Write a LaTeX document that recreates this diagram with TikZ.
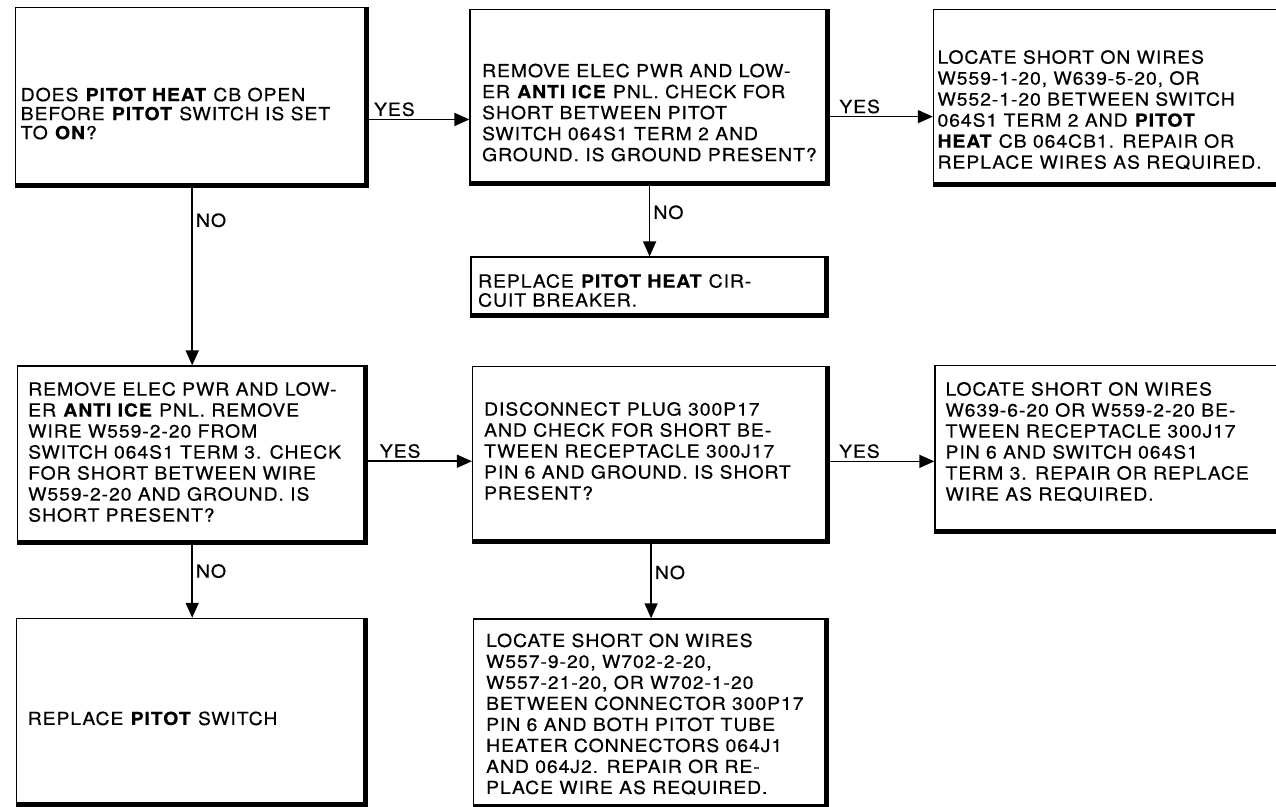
\documentclass[tikz,border=0pt]{standalone}
\usepackage{fontspec}
\setmainfont{TeX Gyre Heros}[FakeStretch=1.08, LetterSpace=5, FakeBold=0.4]
\usepackage{tikz}
\usetikzlibrary{arrows.meta, positioning, calc}
\newcommand{\boxtext}[5]{\parbox[c][#2][t]{#1}{\raggedright\leftskip=#3\relax\vspace*{#4}#5}}

\begin{document}
\begin{tikzpicture}[
    x=1pt, y=-1pt,
    node distance=100pt,
    box/.style={rectangle, draw=black, line width=1.4pt, inner sep=0pt,
                font=\fontsize{18pt}{21pt}\selectfont,
                path picture={\draw[line width=9pt]
                    (path picture bounding box.south west) -- (path picture bounding box.south east)
                    -- (path picture bounding box.north east);}},
    tight/.style={font=\fontsize{18pt}{19pt}\selectfont},
    flow/.style={-{Triangle[length=15pt, width=13pt]}, line width=1.6pt},
    yes/.style={above, inner sep=2.5pt, font=\fontsize{18pt}{21pt}\selectfont},
    no/.style={right, inner sep=3pt, font=\fontsize{18pt}{21pt}\selectfont},
]
    \useasboundingbox (0,0) rectangle (1276,806);

    % pitot heat CB question
    \node[box, tight, anchor=north west] (cbopen) at (15,7) {\boxtext{353pt}{180pt}{5pt}{80pt}{%
        DOES \textbf{PITOT HEAT} CB OPEN\\
        BEFORE \textbf{PITOT} SWITCH IS SET\\
        TO \textbf{ON}?}};

    % ground check at switch term 2
    \node[box, right=100pt of cbopen] (gndchk) {\boxtext{359pt}{176pt}{12pt}{54pt}{%
        REMOVE ELEC PWR AND LOW-\\
        ER \textbf{ANTI ICE} PNL. CHECK FOR\\
        SHORT BETWEEN PITOT\\
        SWITCH 064S1 TERM 2 AND\\
        GROUND. IS GROUND PRESENT?}};

    % wires, term 2 to CB
    \node[box, right=103pt of gndchk] (wires1) {\boxtext{360pt}{177pt}{4pt}{41pt}{%
        LOCATE SHORT ON WIRES\\
        W559-1-20, W639-5-20, OR\\
        W552-1-20 BETWEEN SWITCH\\
        064S1 TERM 2 AND \textbf{PITOT}\\
        \textbf{HEAT} CB 064CB1. REPAIR OR\\
        REPLACE WIRES AS REQUIRED.}};

    % replace CB
    \node[box, tight, below=70pt of gndchk] (cbrepl) {\boxtext{357pt}{60pt}{7pt}{17pt}{%
        REPLACE \textbf{PITOT HEAT} CIR-\\
        CUIT BREAKER.}};

    % wire W559-2-20 check
    \node[box, below=177pt of cbopen] (wirechk) {\boxtext{350pt}{178pt}{11pt}{16pt}{%
        REMOVE ELEC PWR AND LOW-\\
        ER \textbf{ANTI ICE} PNL. REMOVE\\
        WIRE W559-2-20 FROM\\
        SWITCH 064S1 TERM 3. CHECK\\
        FOR SHORT BETWEEN WIRE\\
        W559-2-20 AND GROUND. IS\\
        SHORT PRESENT?}};

    % replace switch
    \node[box, below=73pt of wirechk] (swrepl) {\boxtext{351pt}{188pt}{11pt}{93pt}{%
        REPLACE \textbf{PITOT} SWITCH}};

    % plug 300P17 check
    \node[box, right=104pt of wirechk] (plugchk) {\boxtext{357pt}{177pt}{11.5pt}{35.5pt}{%
        DISCONNECT PLUG 300P17\\
        AND CHECK FOR SHORT BE-\\
        TWEEN RECEPTACLE 300J17\\
        PIN 6 AND GROUND. IS SHORT\\
        PRESENT?}};

    % wires, receptacle to switch
    \node[box, right=104pt of plugchk, yshift=5.5pt] (wires2) {\boxtext{360pt}{168pt}{10.5pt}{16.5pt}{%
        LOCATE SHORT ON WIRES\\
        W639-6-20 OR W559-2-20 BE-\\
        TWEEN RECEPTACLE 300J17\\
        PIN 6 AND SWITCH 064S1\\
        TERM 3. REPAIR OR REPLACE\\
        WIRE AS REQUIRED.}};

    % wires, connector to pitot tubes
    \node[box, below=74pt of plugchk] (wires3) {\boxtext{355pt}{189pt}{12.5pt}{14.5pt}{%
        LOCATE SHORT ON WIRES\\
        W557-9-20, W702-2-20,\\
        W557-21-20, OR W702-1-20\\
        BETWEEN CONNECTOR 300P17\\
        PIN 6 AND BOTH PITOT TUBE\\
        HEATER CONNECTORS 064J1\\
        AND 064J2. REPAIR OR RE-\\
        PLACE WIRE AS REQUIRED.}};

    % YES / NO paths
    \draw[flow] (cbopen.-7.7) -- node[yes, pos=0.25]{YES} (cbopen.-7.7 -| gndchk.west);
    \draw[flow] (gndchk.-6.7) -- node[yes, pos=0.29]{YES} (gndchk.-6.7 -| wires1.west);
    \draw[flow] (gndchk.south) -- node[no, pos=0.37]{NO} (cbrepl.north);
    \draw[flow] (cbopen.south) -- node[no, pos=0.18]{NO} (wirechk.north);
    \draw[flow] (wirechk.-2.3) -- node[yes, pos=0.31]{YES} (wirechk.-2.3 -| plugchk.west);
    \draw[flow] (wirechk.south) -- node[no, pos=0.36]{NO} (swrepl.north);
    \draw[flow] (plugchk.-2.3) -- node[yes, pos=0.28]{YES} (plugchk.-2.3 -| wires2.west);
    \draw[flow] (plugchk.south) -- node[no, pos=0.38]{NO} (wires3.north);

\end{tikzpicture}
\end{document}
